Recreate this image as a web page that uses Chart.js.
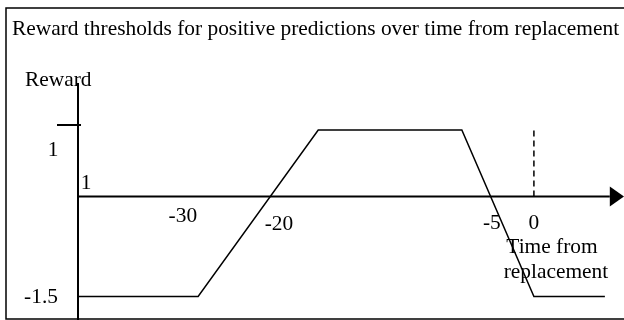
<!DOCTYPE html>
<html>
<head>
<meta charset="utf-8">
<script src="https://cdn.jsdelivr.net/npm/chart.js@4.4.0/dist/chart.umd.min.js"></script>
<style>
    html, body { margin: 0; padding: 0; background: #fff; }
    #wrap { width: 624px; height: 320px; }
</style>
</head>
<body>
<div id="wrap"><canvas id="rewardChart" width="624" height="320"></canvas></div>
<script>
// schematic time axis (diagram units, 0 = reward axis, 100 = arrow tip)
const lineX = [0, 22, 44, 70.3, 83.5, 96.5];
const lineY = [-1.5, -1.5, 1, 1, -1.5, -1.5];
const zeroX = 83.5; // dashed marker at time 0
const timeTicks = ['-30', '-20', '-5', '0'];
const timeTickPos = [19.2, 36.8, 75.8, 83.5];
const titleText = 'Reward thresholds for positive predictions over time from replacement';

const serif = '"Liberation Serif", "Times New Roman", serif';

// axes, arrow, frame and labels
const diagramPlugin = {
    id: 'diagram',
    afterDatasetsDraw(chart) {
        const ctx = chart.ctx;
        const xs = chart.scales.x;
        const ys = chart.scales.y;
        const ax = xs.getPixelForValue(0);
        const ay = ys.getPixelForValue(0);
        ctx.save();
        ctx.strokeStyle = '#000';
        ctx.fillStyle = '#000';

        // outer frame
        ctx.lineWidth = 1.5;
        ctx.strokeRect(6, 8, 700, 311);

        // reward axis
        ctx.lineWidth = 2;
        ctx.beginPath();
        ctx.moveTo(ax, 83);
        ctx.lineTo(ax, 320);
        ctx.stroke();

        // tick mark for 1
        const y1 = ys.getPixelForValue(1) - 5;
        ctx.beginPath();
        ctx.moveTo(57, y1);
        ctx.lineTo(ax + 3, y1);
        ctx.stroke();

        // time axis with arrow
        const tip = xs.getPixelForValue(100);
        const base = xs.getPixelForValue(97.4);
        ctx.beginPath();
        ctx.moveTo(ax, ay);
        ctx.lineTo(base, ay);
        ctx.stroke();
        ctx.beginPath();
        ctx.moveTo(base, ay - 10);
        ctx.lineTo(tip, ay);
        ctx.lineTo(base, ay + 10);
        ctx.closePath();
        ctx.fill();

        // texts
        ctx.textBaseline = 'middle';
        ctx.font = '21.4px ' + serif;
        ctx.textAlign = 'left';
        ctx.fillText(titleText, 12, 29);
        ctx.fillText('Reward', 25, 80);

        ctx.textAlign = 'center';
        ctx.fillText('1', 53, 150);
        ctx.fillText('1', ax + 8, 183);
        ctx.fillText('-1.5', 41, ys.getPixelForValue(-1.5) + 1);

        const tickY = [216, 224, 223, 223];
        timeTicks.forEach((t, i) => {
            ctx.fillText(t, xs.getPixelForValue(timeTickPos[i]), tickY[i]);
        });
        ctx.fillText('Time from', 552, 247);
        ctx.fillText('replacement', 556, 272);
        ctx.restore();
    }
};

document.addEventListener('DOMContentLoaded', function() {
    const ctx = document.getElementById('rewardChart').getContext('2d');
    new Chart(ctx, {
        type: 'scatter',
        data: {
            datasets: [{
                label: 'Reward threshold',
                data: lineX.map((x, i) => ({ x: x, y: lineY[i] })),
                showLine: true,
                borderColor: '#000',
                borderWidth: 1.5,
                pointRadius: 0,
                tension: 0
            }, {
                label: 'Time 0',
                data: [{ x: zeroX, y: 0 }, { x: zeroX, y: 1 }],
                showLine: true,
                borderColor: '#000',
                borderWidth: 1.5,
                borderDash: [6, 4],
                pointRadius: 0
            }]
        },
        options: {
            responsive: false,
            animation: false,
            layout: { padding: { left: 78, right: 0, top: 8, bottom: 0 } },
            plugins: { legend: { display: false }, tooltip: { enabled: false } },
            scales: {
                x: { type: 'linear', min: 0, max: 100, display: false },
                y: { type: 'linear', min: -1.853, max: 2.832, display: false }
            }
        },
        plugins: [diagramPlugin]
    });
});
</script>
</body>
</html>
